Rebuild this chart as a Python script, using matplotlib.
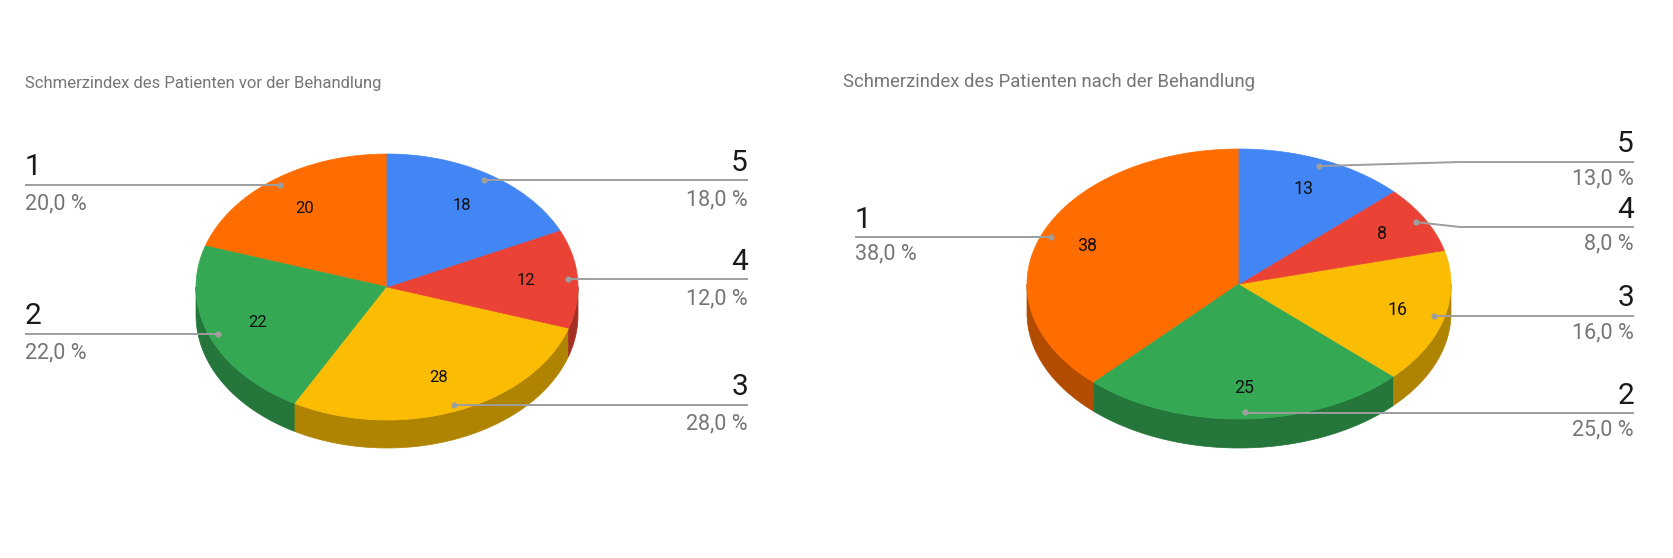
import numpy as np
import matplotlib.pyplot as plt
from matplotlib.patches import Polygon
from matplotlib.colors import to_rgb

plt.rcParams['font.family'] = ['Roboto', 'DejaVu Sans']

# data
categories = ['1', '2', '3', '4', '5']
vor_values = [20, 22, 28, 12, 18]
nach_values = [38, 25, 16, 8, 13]
titles = ['Schmerzindex des Patienten vor der Behandlung',
          'Schmerzindex des Patienten nach der Behandlung']
colors = ['#FF6D01', '#34A853', '#FBBC04', '#EA4335', '#4285F4']


def darker(c, f=0.7):
    r, g, b = to_rgb(c)
    return (r * f, g * f, b * f)


def arc(cx, cy, rx, ry, a0, a1, dy=0, n=80):
    t = np.radians(np.linspace(a0, a1, n))
    return np.column_stack([cx + rx * np.cos(t), cy - ry * np.sin(t) + dy])


def pie3d(ax, values, cfg):
    cx, cy, rx, ry, depth = cfg['cx'], cfg['cy'], cfg['rx'], cfg['ry'], cfg['depth']
    total = float(sum(values))
    starts = []
    a = 90.0
    for v in values:
        starts.append((a, a + 360.0 * v / total))
        a += 360.0 * v / total

    # side walls (only the front half is visible)
    for (a0, a1), c in zip(starts, colors):
        for lo, hi in [(180, 360), (540, 720)]:
            s, e = max(a0, lo), min(a1, hi)
            if e > s:
                top = arc(cx, cy, rx, ry, s, e)
                bot = arc(cx, cy, rx, ry, e, s, dy=depth)
                ax.add_patch(Polygon(np.vstack([top, bot]), closed=True,
                                     fc=darker(c), ec=darker(c), lw=0.5))

    # top faces
    for (a0, a1), c in zip(starts, colors):
        pts = np.vstack([[cx, cy], arc(cx, cy, rx, ry, a0, a1)])
        ax.add_patch(Polygon(pts, closed=True, fc=c, ec=c, lw=0.5))

    # labels
    for i, ((a0, a1), v) in enumerate(zip(starts, values)):
        m = np.radians((a0 + a1) / 2)
        lx = cx + cfg['rin'] * rx * np.cos(m)
        ly = cy - cfg['rin'] * ry * np.sin(m)
        ax.text(lx, ly, f'{v}', ha='center', va='center', fontsize=cfg['inner_fs'],
                color='#111111')

        dx = cx + 0.952 * rx * np.cos(m)
        dy = cy - 0.952 * ry * np.sin(m)
        side = cfg['side'][i]
        ly2 = cfg['line_y'][i] if cfg['line_y'][i] is not None else dy
        pct = f'{100.0 * v / total:.1f}'.replace('.', ',') + ' %'
        if side == 'r':
            xe = cfg['xr']
            ha = 'right'
        else:
            xe = cfg['xl']
            ha = 'left'
        if abs(ly2 - dy) > 1:
            xs, ys = [dx, cfg['kink'], xe], [dy, ly2, ly2]
        else:
            xs, ys = [dx, xe], [ly2, ly2]
        ax.plot(xs, ys, color='#9E9E9E', lw=1.4, solid_capstyle='butt')
        ax.plot([dx], [dy], 'o', ms=4.5, color='#9E9E9E', mec='none')
        ax.text(xe, ly2 - cfg['big_off'], categories[i], ha=ha, va='baseline',
                fontsize=21.5, color='#1a1a1a')
        ax.text(xe, ly2 + cfg['pct_off'], pct, ha=ha, va='baseline',
                fontsize=15.5, color='#757575')


fig = plt.figure(figsize=(16.74, 5.58), dpi=100)
ax = fig.add_axes([0, 0, 1, 1])
ax.set_xlim(0, 1674)
ax.set_ylim(558, 0)
ax.axis('off')

left_cfg = dict(cx=387, cy=287, rx=191, ry=133, depth=28, rin=0.73, inner_fs=12,
                side=['l', 'l', 'r', 'r', 'r'], line_y=[None] * 5,
                xl=25, xr=748, kink=600, big_off=9.5, pct_off=25)
right_cfg = dict(cx=1239, cy=284, rx=212, ry=135, depth=29, rin=0.77, inner_fs=12.8,
                 side=['l', 'r', 'r', 'r', 'r'], line_y=[237, 413, 316, 227, 162],
                 xl=855, xr=1634, kink=1460, big_off=9.5, pct_off=22)

pie3d(ax, vor_values, left_cfg)
pie3d(ax, nach_values, right_cfg)

ax.text(25, 88, titles[0], fontsize=12, color='#757575', va='baseline')
ax.text(843, 87, titles[1], fontsize=13.3, color='#757575', va='baseline')

fig.savefig('out.png', dpi=100)
